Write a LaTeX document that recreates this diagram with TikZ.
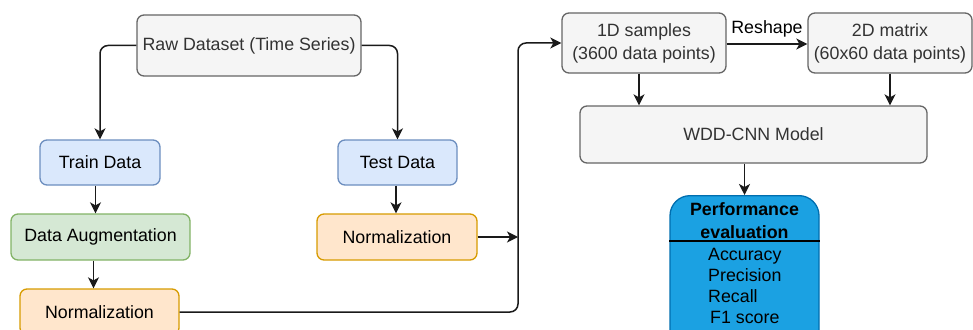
\documentclass[tikz,border=0pt]{standalone}
\usepackage{fontspec}
\setmainfont{Liberation Sans}
\usetikzlibrary{arrows.meta,positioning}

\definecolor{greyfill}{HTML}{F5F5F5}
\definecolor{greyline}{HTML}{666666}
\definecolor{greytext}{HTML}{333333}
\definecolor{bluefill}{HTML}{DAE8FC}
\definecolor{blueline}{HTML}{6C8EBF}
\definecolor{greenfill}{HTML}{D5E8D4}
\definecolor{greenline}{HTML}{82B366}
\definecolor{orangefill}{HTML}{FFE6CC}
\definecolor{orangeline}{HTML}{D79B00}
\definecolor{perffill}{HTML}{1BA1E2}
\definecolor{perfline}{HTML}{006EAF}
\definecolor{wire}{HTML}{1A1A1A}

\tikzset{
  box/.style={draw, rounded corners=7pt, line width=1.3pt, inner sep=0pt,
    align=center, font=\fontsize{17.8}{23}\selectfont},
  greybox/.style={box, fill=greyfill, draw=greyline, text=greytext},
  bluebox/.style={box, fill=bluefill, draw=blueline, text=black},
  greenbox/.style={box, fill=greenfill, draw=greenline, text=black},
  orangebox/.style={box, fill=orangefill, draw=orangeline, text=black},
  perfbox/.style={draw=perfline, fill=perffill, rounded corners=20pt,
    line width=1.3pt, inner sep=0pt},
  arr/.style={draw=wire, line width=1.5pt,
    -{Stealth[length=11pt,width=11pt,inset=3pt]}},
  lbl/.style={font=\fontsize{17.8}{23}\selectfont, text=black, inner sep=0pt}
}

\begin{document}
\begin{tikzpicture}[x=1pt, y=-1pt]
\useasboundingbox (0,0) rectangle (973,329);
\clip (0,0) rectangle (973,329);

% left branch: data preparation
\node[greybox, minimum width=224pt, minimum height=61pt] (raw) at (249,45.5) {Raw Dataset (Time Series)};
\node[bluebox, minimum width=120pt, minimum height=45pt] (train) at (100,162.5) {Train Data};
\node[bluebox, minimum width=119pt, minimum height=45pt] (test) at (397.5,162.5) {Test Data};
\node[greenbox, minimum width=179pt, minimum height=46pt] (aug) at (100.5,237) {Data Augmentation};
\node[orangebox, minimum width=160pt, minimum height=46pt] (normR) at (397,237) {Normalization};
\node[orangebox, minimum width=159pt, minimum height=46pt] (normL) at (99.5,312) {Normalization};

% right branch: model
\node[greybox, minimum width=164pt, minimum height=60pt] (s1d) at (644,43) {1D samples\\(3600 data points)};
\node[greybox, minimum width=164pt, minimum height=60pt] (s2d) at (890,43) {2D matrix\\(60x60 data points)};
\node[greybox, minimum width=347pt, minimum height=57pt] (wdd) at (753.5,134.5) {WDD-CNN Model};

% evaluation card
\node[perfbox, minimum width=149pt, minimum height=160pt, anchor=north] (perf) at (744.5,195) {};
\draw[black, line width=1.3pt] ([yshift=-46pt]perf.north west) -- ([yshift=-46pt]perf.north east);
\node[lbl, align=center, font=\fontsize{17.8}{23}\selectfont\bfseries, anchor=north] (perftitle) at (744.5,202) {Performance\\evaluation};
\node[lbl, align=left, font=\fontsize{17.8}{21}\selectfont, anchor=north west] (perfitems) at (708,248) {Accuracy\\Precision\\Recall\\\hspace*{2pt}F1 score};

% connectors
\coordinate (bus) at (518,0);
\draw[arr, rounded corners=8pt] (raw.west) -| (train.north);
\draw[arr, rounded corners=8pt] (raw.east) -| (test.north);
\draw[arr] ([xshift=-4.5pt]train.south) -- ([xshift=-4.5pt]train.south |- aug.north);
\draw[arr] ([xshift=-7pt]aug.south) -- ([xshift=-7pt]aug.south |- normL.north);
\draw[arr] ([xshift=-1.5pt]test.south) -- ([xshift=-1.5pt]test.south |- normR.north);
\draw[arr] (normR.east) -- (bus |- normR.east);
\draw[arr, rounded corners=8pt] (normL.east) -- (bus |- normL.east) -- (bus |- s1d.west) -- (s1d.west);
\draw[arr] ([yshift=-1pt]s1d.east) -- node[lbl, above=6pt] {Reshape} ([yshift=-1pt]s2d.west);
\draw[arr] ([xshift=-5pt]s1d.south) -- ([xshift=-5pt]s1d.south |- wdd.north);
\draw[arr] (s2d.south) -- (s2d.south |- wdd.north);
\draw[arr] (wdd.south -| perf.north) -- (perf.north);
\end{tikzpicture}
\end{document}
